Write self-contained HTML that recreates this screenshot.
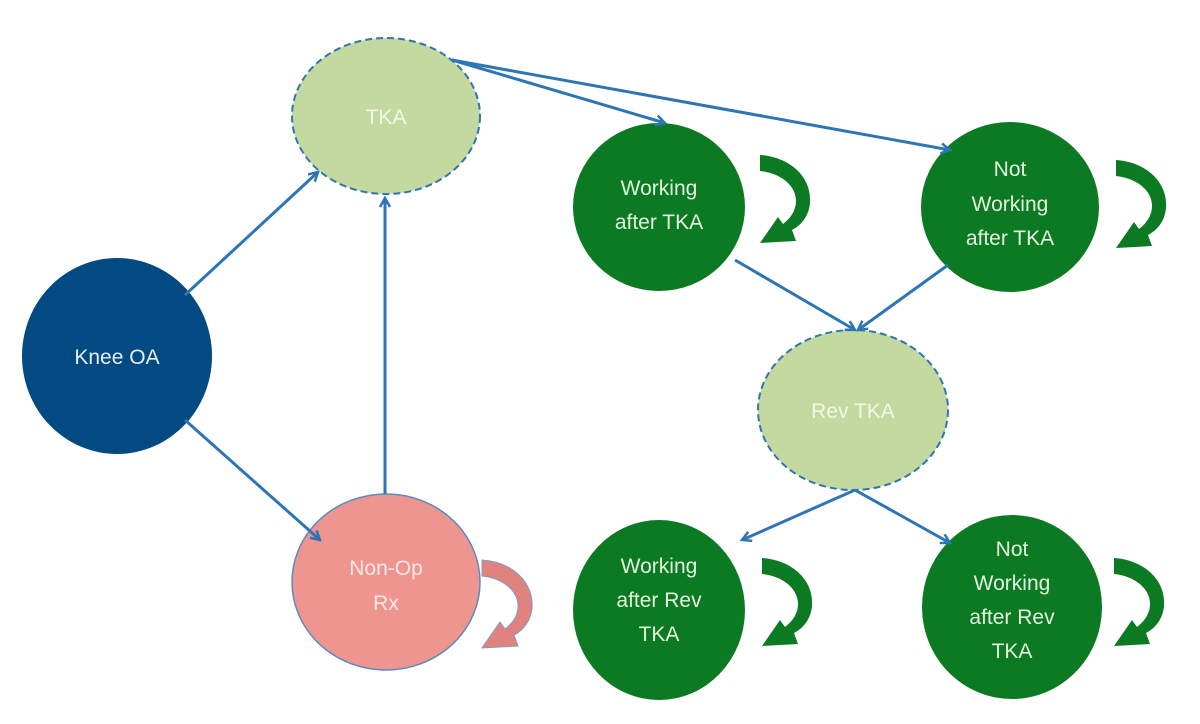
<!DOCTYPE html>
<html><head><meta charset="utf-8"><style>html,body{margin:0;padding:0;background:#fff}svg{display:block}</style></head>
<body>
<svg width="1200" height="724" viewBox="0 0 1200 724" xmlns="http://www.w3.org/2000/svg">
<defs>
<marker id="ah" markerWidth="12" markerHeight="12" refX="10" refY="6" orient="auto" markerUnits="userSpaceOnUse">
<path d="M1,1 L10,6 L1,11" fill="none" stroke="#2e75b6" stroke-width="2.5"/>
</marker>
<path id="loop" d="M0,0 C30,2 52,22 50,48 C49,60 42,70 32,75 L36,86 L0,88 L18,62 L23,69 C31,63 36,55 36,46 C36,30 20,18 0,16 Z"/>
</defs>
<g font-family="'Liberation Sans', sans-serif" font-size="21" text-anchor="middle">
<!-- nodes -->
<ellipse cx="117" cy="356" rx="95" ry="98" fill="#034a82"/>
<text x="117" y="364" fill="#e6eef6">Knee OA</text>
<ellipse cx="386" cy="116" rx="94" ry="78" fill="#c3d99f" stroke="#2e75b6" stroke-width="2" stroke-dasharray="7,4"/>
<text x="386" y="124" fill="#f2f7ea">TKA</text>
<ellipse cx="386" cy="582" rx="94" ry="88" fill="#ef9590" stroke="#5b8ac0" stroke-width="1.5"/>
<text x="386" y="575" fill="#fbe8e6">Non-Op</text>
<text x="386" y="610" fill="#fbe8e6">Rx</text>
<ellipse cx="853" cy="410" rx="95" ry="80" fill="#c3d99f" stroke="#2e75b6" stroke-width="2" stroke-dasharray="7,4"/>
<text x="853" y="418" fill="#f2f7ea">Rev TKA</text>
<g fill="#0b7a22">
<ellipse cx="659" cy="207" rx="86" ry="84"/>
<ellipse cx="1010" cy="207" rx="89" ry="85"/>
<ellipse cx="659" cy="610" rx="86" ry="90"/>
<ellipse cx="1012" cy="607" rx="90" ry="92"/>
</g>
<g fill="#e3f3dd">
<text x="659" y="195">Working</text>
<text x="659" y="229">after TKA</text>
<text x="1010" y="176">Not</text>
<text x="1010" y="211">Working</text>
<text x="1010" y="245">after TKA</text>
<text x="659" y="573">Working</text>
<text x="659" y="607">after Rev</text>
<text x="659" y="641">TKA</text>
<text x="1012" y="556">Not</text>
<text x="1012" y="590">Working</text>
<text x="1012" y="624">after Rev</text>
<text x="1012" y="658">TKA</text>
</g>
<!-- arrows -->
<g stroke="#2e75b6" stroke-width="3" fill="none" marker-end="url(#ah)">
<line x1="185" y1="295" x2="318" y2="172"/>
<line x1="185" y1="420" x2="320" y2="540"/>
<line x1="385" y1="494" x2="385" y2="198"/>
<line x1="452" y1="60" x2="665" y2="123"/>
<line x1="452" y1="60" x2="950" y2="150"/>
<line x1="735" y1="260" x2="855" y2="330"/>
<line x1="948" y1="265" x2="858" y2="330"/>
<line x1="855" y1="490" x2="742" y2="540"/>
<line x1="855" y1="490" x2="950" y2="543"/>
</g>
<!-- self loops -->
<g fill="#0b7a22">
<use href="#loop" x="760" y="155"/>
<use href="#loop" x="1116" y="160"/>
<use href="#loop" x="762" y="558"/>
<use href="#loop" x="1114" y="558"/>
</g>
<use href="#loop" x="482" y="560" fill="#e0837f" stroke="#7a9cc8" stroke-width="1"/>
</g>
</svg>
</body></html>
